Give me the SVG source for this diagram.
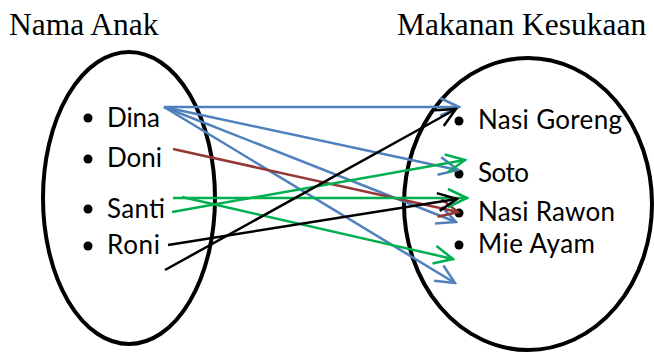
<svg xmlns="http://www.w3.org/2000/svg" width="654" height="352" viewBox="0 0 654 352">
  <style>
    .title { font-family: "Liberation Serif", "Times New Roman", serif; font-size: 31.5px; fill: #000; }
    .item { font-family: Lato, "Liberation Sans", sans-serif; font-size: 26px; fill: #000; }
    .set { fill: none; stroke: #000; stroke-width: 4; }
    .dot { fill: #000; }
    .edge { fill: none; stroke-width: 2.5; }
    .blue { stroke: #4F81BD; }
    .red { stroke: #953735; }
    .green { stroke: #00B050; }
    .black { stroke: #000; }
  </style>
  <defs>
    <marker id="ah-blue" viewBox="-22 -12 24 24" markerWidth="24" markerHeight="24" refX="0" refY="0" orient="auto" markerUnits="userSpaceOnUse">
      <path d="M-19 -9 L0 0 L-19 9" fill="none" stroke="#4F81BD" stroke-width="2.5"/>
    </marker>
    <marker id="ah-red" viewBox="-22 -12 24 24" markerWidth="24" markerHeight="24" refX="0" refY="0" orient="auto" markerUnits="userSpaceOnUse">
      <path d="M-19 -9 L0 0 L-19 9" fill="none" stroke="#953735" stroke-width="2.5"/>
    </marker>
    <marker id="ah-green" viewBox="-22 -12 24 24" markerWidth="24" markerHeight="24" refX="0" refY="0" orient="auto" markerUnits="userSpaceOnUse">
      <path d="M-19 -9 L0 0 L-19 9" fill="none" stroke="#00B050" stroke-width="2.5"/>
    </marker>
    <marker id="ah-black" viewBox="-22 -12 24 24" markerWidth="24" markerHeight="24" refX="0" refY="0" orient="auto" markerUnits="userSpaceOnUse">
      <path d="M-19 -9 L0 0 L-19 9" fill="none" stroke="#000" stroke-width="2.5"/>
    </marker>
  </defs>

  <rect width="654" height="352" fill="#fff"/>

  <!-- set captions -->
  <text class="title" x="9" y="35">Nama Anak</text>
  <text class="title" x="397" y="35">Makanan Kesukaan</text>

  <!-- domain: children -->
  <g id="set-anak">
    <ellipse class="set" cx="129" cy="198" rx="86" ry="146"/>
  </g>
  <g id="node-dina">
    <circle class="dot" cx="88" cy="118" r="4.5"/>
    <text class="item" x="107" y="127" textLength="53">Dina</text>
  </g>
  <g id="node-doni">
    <circle class="dot" cx="88" cy="159" r="4.5"/>
    <text class="item" x="107" y="167" textLength="55">Doni</text>
  </g>
  <g id="node-santi">
    <circle class="dot" cx="88" cy="209" r="4.5"/>
    <text class="item" x="107" y="218" textLength="58">Santi</text>
  </g>
  <g id="node-roni">
    <circle class="dot" cx="88" cy="246" r="4.5"/>
    <text class="item" x="107" y="254" textLength="53">Roni</text>
  </g>

  <!-- codomain: favourite foods -->
  <g id="set-makanan">
    <ellipse class="set" cx="528" cy="204" rx="124" ry="146"/>
  </g>
  <g id="node-nasi-goreng">
    <circle class="dot" cx="459" cy="121" r="4.5"/>
    <text class="item" x="478" y="129" textLength="144">Nasi Goreng</text>
  </g>
  <g id="node-soto">
    <circle class="dot" cx="459" cy="174" r="4.5"/>
    <text class="item" x="478" y="182" textLength="51">Soto</text>
  </g>
  <g id="node-nasi-rawon">
    <circle class="dot" cx="459" cy="213" r="4.5"/>
    <text class="item" x="478" y="221" textLength="137">Nasi Rawon</text>
  </g>
  <g id="node-mie-ayam">
    <circle class="dot" cx="459" cy="245" r="4.5"/>
    <text class="item" x="478" y="253" textLength="117">Mie Ayam</text>
  </g>

  <!-- mapping arrows -->
  <g id="connectors">
    <line class="edge blue" x1="164" y1="107" x2="459" y2="107" marker-end="url(#ah-blue)"/>
    <line class="edge blue" x1="164" y1="107" x2="458" y2="170" marker-end="url(#ah-blue)"/>
    <line class="edge blue" x1="164" y1="107" x2="456" y2="222" marker-end="url(#ah-blue)"/>
    <line class="edge blue" x1="164" y1="107" x2="455" y2="283" marker-end="url(#ah-blue)"/>
    <line class="edge red" x1="173" y1="149" x2="458" y2="212" marker-end="url(#ah-red)"/>
    <line class="edge green" x1="172" y1="212" x2="465" y2="160" marker-end="url(#ah-green)"/>
    <line class="edge green" x1="173" y1="198" x2="467" y2="198" marker-end="url(#ah-green)"/>
    <line class="edge green" x1="182" y1="197" x2="453" y2="259" marker-end="url(#ah-green)"/>
    <line class="edge black" x1="168" y1="245" x2="457" y2="199" marker-end="url(#ah-black)"/>
    <line class="edge black" x1="165" y1="270" x2="456" y2="109" marker-end="url(#ah-black)"/>
  </g>
</svg>
